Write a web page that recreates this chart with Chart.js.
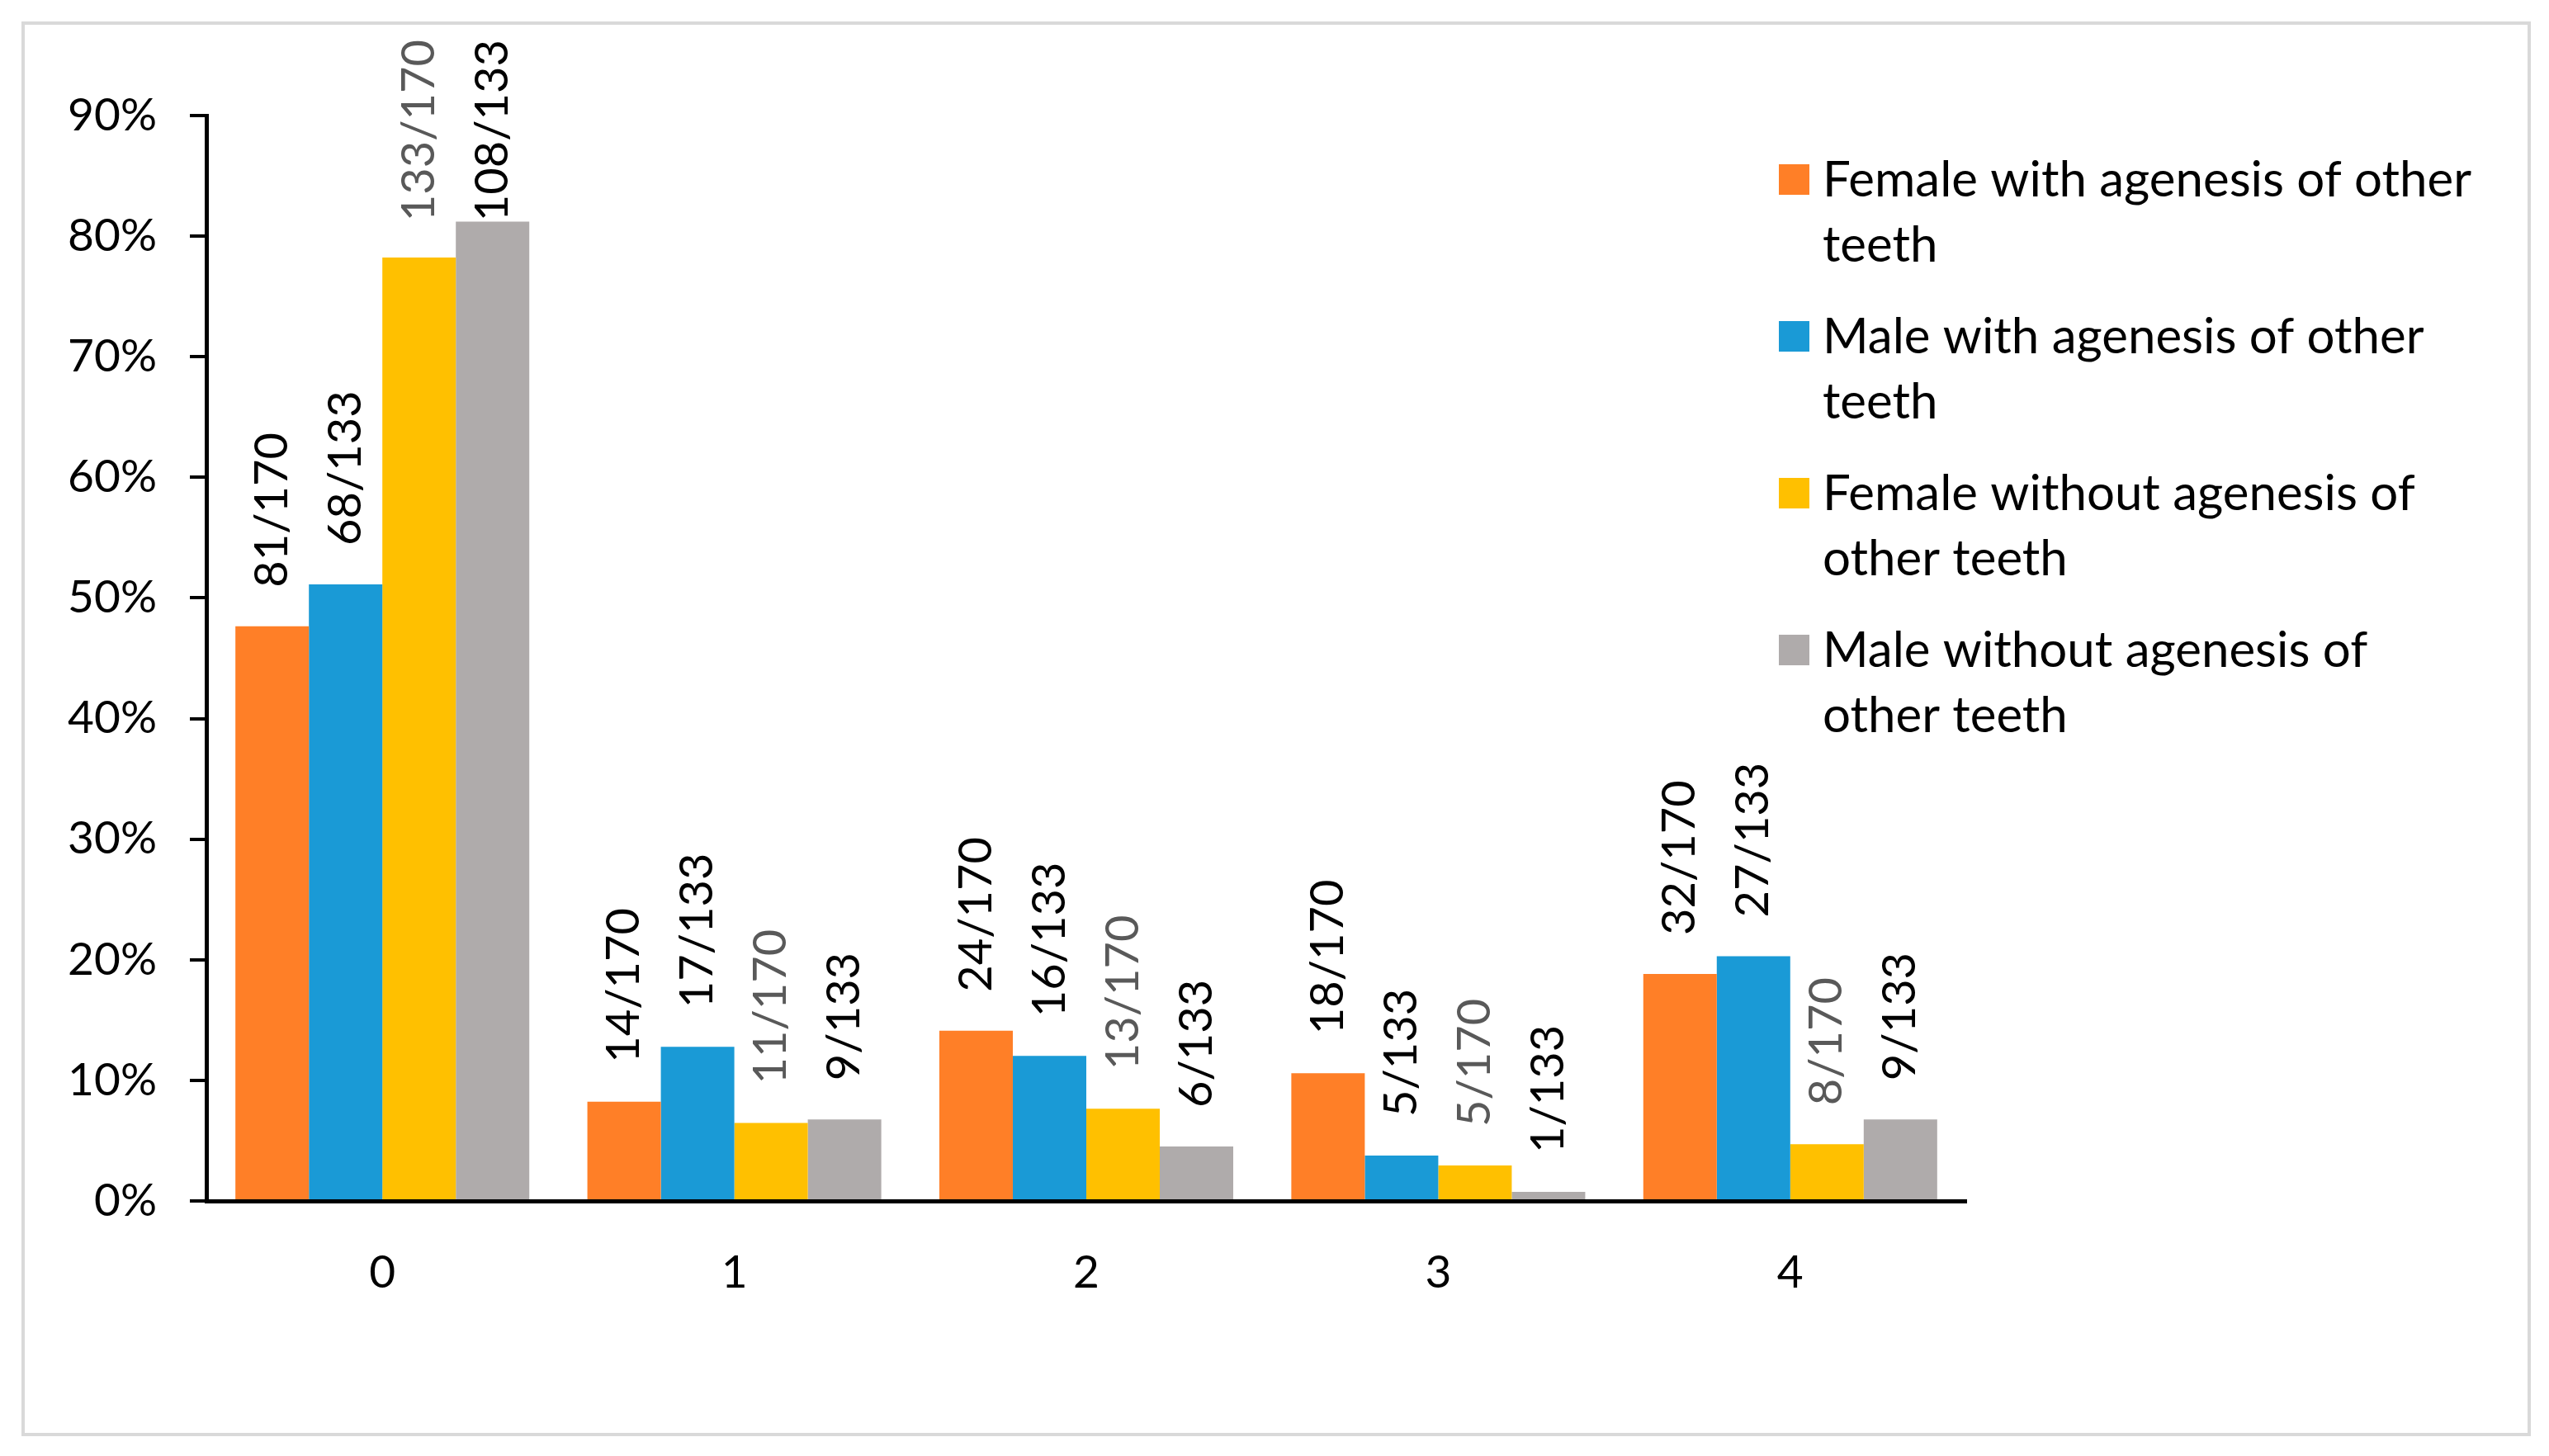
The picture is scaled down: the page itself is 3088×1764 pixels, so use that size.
<!DOCTYPE html>
<html>
<head>
<meta charset="utf-8">
<script src="https://cdn.jsdelivr.net/npm/chart.js@4.4.1/dist/chart.umd.min.js"></script>
<style>
  body{margin:0;background:#fff;}
  #wrap{position:relative;width:3088px;height:1764px;}
  #frame{position:absolute;left:26px;top:26px;width:3040px;height:1714px;border:4px solid #d9d9d9;box-sizing:border-box;}
  #chart{position:absolute;left:0;top:0;}
</style>
</head>
<body>
<div id="wrap"><div id="frame"></div><canvas id="chart" width="3088" height="1764"></canvas></div>
<script>
// number of missing teeth (x categories)
const categories = ['0', '1', '2', '3', '4'];
// counts
const femaleWith = [81, 14, 24, 18, 32];
const maleWith = [68, 17, 16, 5, 27];
const femaleWithout = [133, 11, 13, 5, 8];
const maleWithout = [108, 9, 6, 1, 9];
const femaleTotal = 170;
const maleTotal = 133;
const seriesNames = [
  ['Female with agenesis of other', 'teeth'],
  ['Male with agenesis of other', 'teeth'],
  ['Female without agenesis of', 'other teeth'],
  ['Male without agenesis of', 'other teeth']
];
const seriesColors = ['#FF7F27', '#1A9AD6', '#FFC000', '#AFABAB'];
const labelColors = ['#000000', '#000000', '#595959', '#000000'];

function pct(counts, total){
  return counts.map(c => c / total * 100);
}

const fractionLabels = {
  id: 'fractionLabels',
  afterDatasetsDraw(chart){
    const ctx = chart.ctx;
    ctx.save();
    ctx.font = '56px Lato';
    ctx.textAlign = 'left';
    ctx.textBaseline = 'middle';
    chart.data.datasets.forEach((ds, i) => {
      const meta = chart.getDatasetMeta(i);
      meta.data.forEach((bar, j) => {
        const txt = ds.counts[j] + '/' + ds.total;
        const w = ctx.measureText(txt).width;
        const start = Math.max(bar.y - 47, 48 + w);
        ctx.save();
        ctx.translate(bar.x, start);
        ctx.rotate(-Math.PI / 2);
        ctx.fillStyle = labelColors[i];
        ctx.fillText(txt, 0, 0);
        ctx.restore();
      });
    });
    ctx.restore();
  }
};

const sideLegend = {
  id: 'sideLegend',
  afterDraw(chart){
    const ctx = chart.ctx;
    ctx.save();
    ctx.font = '60px Lato';
    ctx.textAlign = 'left';
    ctx.textBaseline = 'alphabetic';
    seriesNames.forEach((lines, i) => {
      const y0 = 238 + i * 190;
      ctx.fillStyle = seriesColors[i];
      ctx.fillRect(2155, y0 - 39, 37, 37);
      ctx.fillStyle = '#000';
      lines.forEach((l, k) => ctx.fillText(l, 2208, y0 + k * 79));
    });
    ctx.restore();
  }
};

function chartIt(){
  const ctx = document.querySelector('#chart').getContext('2d');
  const series = [
    {counts: femaleWith, total: femaleTotal},
    {counts: maleWith, total: maleTotal},
    {counts: femaleWithout, total: femaleTotal},
    {counts: maleWithout, total: maleTotal}
  ];
  new Chart(ctx, {
    type: 'bar',
    data: {
      labels: categories,
      datasets: series.map((s, i) => ({
        label: seriesNames[i].join(' '),
        data: pct(s.counts, s.total),
        counts: s.counts,
        total: s.total,
        backgroundColor: seriesColors[i],
        borderWidth: 0,
        barPercentage: 1,
        categoryPercentage: 0.835
      }))
    },
    options: {
      responsive: false,
      animation: false,
      devicePixelRatio: 1,
      layout: {padding: {top: 140, right: 706, left: 0, bottom: 0}},
      plugins: {legend: {display: false}, tooltip: {enabled: false}},
      scales: {
        x: {
          grid: {display: false},
          border: {color: '#000', width: 5},
          ticks: {color: '#000', font: {family: 'Lato', size: 55}, padding: 46},
          afterFit(s){ s.height = 309; }
        },
        y: {
          min: 0,
          max: 90,
          ticks: {
            stepSize: 10,
            callback: v => v + '%',
            color: '#000',
            font: {family: 'Lato', size: 55},
            padding: 40
          },
          grid: {drawOnChartArea: false, drawTicks: true, tickLength: 20, color: '#000', lineWidth: 4},
          border: {color: '#000', width: 5},
          afterFit(s){ s.width = 250; }
        }
      }
    },
    plugins: [fractionLabels, sideLegend]
  });
}

document.fonts.load('60px Lato').then(chartIt, chartIt);
</script>
</body>
</html>
